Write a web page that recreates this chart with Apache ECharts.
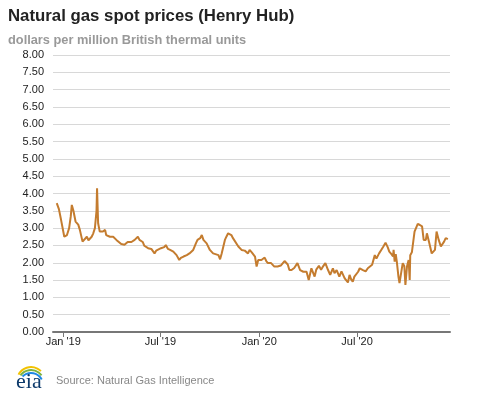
<!DOCTYPE html>
<html><head><meta charset="utf-8">
<script src="https://cdn.jsdelivr.net/npm/echarts@6/dist/echarts.min.js"></script>
<style>html,body{margin:0;padding:0;background:#fff}#c{width:477px;height:393px}</style>
</head><body><div id="c"></div>
<script>
const dates = ['2018-12-20','2018-12-21','2018-12-24','2018-12-28','2018-12-31','2019-01-03','2019-01-06','2019-01-08','2019-01-12','2019-01-15','2019-01-17','2019-01-20','2019-01-24','2019-01-29','2019-02-01','2019-02-06','2019-02-09','2019-02-14','2019-02-17','2019-02-23','2019-02-26','2019-03-01','2019-03-04','2019-03-05','2019-03-07','2019-03-10','2019-03-13','2019-03-16','2019-03-20','2019-03-22','2019-03-29','2019-04-01','2019-04-04','2019-04-10','2019-04-13','2019-04-19','2019-04-25','2019-05-01','2019-05-08','2019-05-14','2019-05-17','2019-05-20','2019-05-23','2019-05-29','2019-06-01','2019-06-08','2019-06-14','2019-06-20','2019-06-23','2019-06-26','2019-07-02','2019-07-08','2019-07-11','2019-07-15','2019-07-19','2019-07-25','2019-07-31','2019-08-05','2019-08-08','2019-08-13','2019-08-19','2019-08-24','2019-08-31','2019-09-05','2019-09-08','2019-09-13','2019-09-16','2019-09-19','2019-09-25','2019-10-01','2019-10-07','2019-10-10','2019-10-17','2019-10-20','2019-10-23','2019-10-29','2019-11-01','2019-11-04','2019-11-07','2019-11-10','2019-11-13','2019-11-23','2019-11-29','2019-12-05','2019-12-11','2019-12-14','2019-12-18','2019-12-24','2019-12-27','2019-12-30','2020-01-05','2020-01-08','2020-01-11','2020-01-14','2020-01-17','2020-01-23','2020-01-29','2020-02-04','2020-02-10','2020-02-17','2020-02-23','2020-02-26','2020-03-01','2020-03-06','2020-03-12','2020-03-17','2020-03-23','2020-03-29','2020-04-02','2020-04-07','2020-04-10','2020-04-13','2020-04-16','2020-04-21','2020-04-25','2020-04-28','2020-05-03','2020-05-08','2020-05-12','2020-05-17','2020-05-20','2020-05-24','2020-05-29','2020-06-02','2020-06-05','2020-06-08','2020-06-14','2020-06-17','2020-06-20','2020-06-23','2020-06-26','2020-07-03','2020-07-06','2020-07-09','2020-07-12','2020-07-17','2020-07-21','2020-07-24','2020-07-29','2020-08-03','2020-08-06','2020-08-11','2020-08-15','2020-08-19','2020-08-23','2020-08-27','2020-08-30','2020-09-03','2020-09-06','2020-09-07','2020-09-09','2020-09-11','2020-09-13','2020-09-16','2020-09-18','2020-09-21','2020-09-24','2020-09-27','2020-09-29','2020-10-02','2020-10-05','2020-10-07','2020-10-08','2020-10-11','2020-10-14','2020-10-16','2020-10-19','2020-10-22','2020-10-26','2020-10-30','2020-11-02','2020-11-06','2020-11-08','2020-11-12','2020-11-17','2020-11-20','2020-11-23','2020-11-26','2020-11-30','2020-12-04','2020-12-07','2020-12-10','2020-12-13','2020-12-17'];
const prices = [3.72,3.75,3.55,3.24,3.25,2.75,2.70,2.80,3.00,3.33,3.67,3.50,3.19,3.10,2.95,2.61,2.65,2.75,2.65,2.75,2.85,3.00,3.50,4.15,3.14,2.90,2.93,2.90,2.95,2.80,2.75,2.70,2.75,2.66,2.70,2.54,2.52,2.60,2.60,2.66,2.70,2.75,2.66,2.60,2.49,2.42,2.40,2.27,2.35,2.32,2.42,2.45,2.51,2.40,2.37,2.32,2.22,2.08,2.14,2.18,2.22,2.27,2.37,2.56,2.66,2.71,2.80,2.66,2.56,2.37,2.27,2.30,2.22,2.10,2.27,2.66,2.76,2.85,2.88,2.80,2.71,2.47,2.37,2.35,2.27,2.37,2.30,2.18,1.89,2.08,2.08,2.03,2.15,2.05,1.99,1.99,1.89,1.89,1.92,2.05,1.95,1.79,1.79,1.85,1.99,1.79,1.74,1.74,1.50,1.84,1.80,1.60,1.80,1.91,1.80,1.88,1.99,1.79,1.65,1.84,1.70,1.79,1.60,1.75,1.75,1.55,1.43,1.65,1.52,1.45,1.60,1.74,1.84,1.84,1.79,1.75,1.84,1.88,1.94,2.22,2.12,2.27,2.37,2.47,2.58,2.45,2.32,2.25,2.18,2.37,2.03,2.25,2.03,1.60,1.41,1.70,1.99,1.90,1.36,1.90,2.08,1.50,2.22,2.30,2.27,2.90,2.95,3.12,3.09,3.05,2.66,2.66,2.85,2.60,2.27,2.29,2.37,2.90,2.66,2.47,2.42,2.61,2.71,2.68];
const tickDates = ['2019-01-01','2019-07-01','2020-01-01','2020-07-01'];
const tickLabels = ["Jan '19","Jul '19","Jan '20","Jul '20"];
const axisStart = '2018-12-13';
const axisEnd = '2020-12-21';
const title = 'Natural gas spot prices (Henry Hub)';
const subtitle = 'dollars per million British thermal units';
const source = 'Source: Natural Gas Intelligence';

const toTime = d => Date.parse(d + 'T00:00:00Z');
const tickTimes = tickDates.map(toTime);
const chart = echarts.init(document.getElementById('c'));
chart.setOption({
  animation: false,
  textStyle: {fontFamily: 'Arial, "Liberation Sans", sans-serif'},
  title: [
    {text: title, left: 3, top: 3, textStyle: {fontSize: 16.8, fontWeight: 'bold', color: '#222'}},
    {text: subtitle, left: 3, top: 29, textStyle: {fontSize: 12.8, fontWeight: 'bold', color: '#999'}}
  ],
  grid: {left: 53, right: 27, top: 55, bottom: 61},
  xAxis: {
    type: 'value',
    min: toTime(axisStart),
    max: toTime(axisEnd),
    axisLine: {lineStyle: {color: '#777', width: 2}},
    axisTick: {show: true, length: 5, customValues: tickTimes, lineStyle: {color: '#777', width: 1}},
    splitLine: {show: false},
    axisLabel: {
      color: '#222', fontSize: 11, margin: 4,
      customValues: tickTimes,
      formatter: function (v) {
        const i = tickTimes.indexOf(+v);
        return i >= 0 ? tickLabels[i] : '';
      }
    }
  },
  yAxis: {
    type: 'value', min: 0, max: 8, interval: 0.5,
    axisLine: {show: false}, axisTick: {show: false},
    splitLine: {lineStyle: {color: '#d8d8d8', width: 1}},
    axisLabel: {color: '#222', fontSize: 11, margin: 9, formatter: v => v.toFixed(2)}
  },
  series: [{
    type: 'line', showSymbol: false, symbol: 'none',
    lineStyle: {color: '#c47c2f', width: 2},
    data: dates.map((d, i) => [toTime(d), prices[i]])
  }],
  graphic: [
    {type: 'text', left: 56, top: 375, style: {text: source, fontSize: 11, fill: '#888', fontFamily: 'Arial, "Liberation Sans", sans-serif'}},
    {type: 'arc', shape: {cx: 31, cy: 381, r: 14, startAngle: Math.PI * 1.15, endAngle: Math.PI * 1.75}, style: {stroke: '#f2c200', lineWidth: 2, fill: null}},
    {type: 'arc', shape: {cx: 31, cy: 383, r: 13, startAngle: Math.PI * 1.2, endAngle: Math.PI * 1.8}, style: {stroke: '#7cb342', lineWidth: 2, fill: null}},
    {type: 'arc', shape: {cx: 31, cy: 385, r: 12, startAngle: Math.PI * 1.25, endAngle: Math.PI * 1.85}, style: {stroke: '#1e88e5', lineWidth: 2, fill: null}},
    {type: 'text', left: 16, top: 371, style: {text: 'eia', fontSize: 22, fill: '#0d3a6b', fontFamily: '"Liberation Serif", "DejaVu Serif", serif'}}
  ]
});
</script></body></html>
